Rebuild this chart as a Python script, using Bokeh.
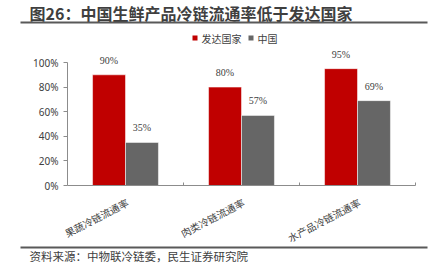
import math
from bokeh.plotting import figure
from bokeh.layouts import column
from bokeh.models import ColumnDataSource, LabelSet, FixedTicker, Range1d
from bokeh.core.properties import value
from bokeh.embed import file_html
from bokeh.resources import INLINE

# ---- data ----
categories = ["果蔬冷链流通率", "肉类冷链流通率", "水产品冷链流通率"]
developed = [90, 80, 95]
china = [35, 57, 69]
series_names = ["发达国家", "中国"]
y_ticks = [0, 20, 40, 60, 80, 100]
title_text = "图26：中国生鲜产品冷链流通率低于发达国家"
source_text = "资料来源：中物联冷链委，民生证券研究院"

# ---- styles ----
RED = "#C00000"
GRAY = "#666666"
TXT = "#404040"
AXIS = "#8C8C8C"
RULE = "#595959"
CJK = "Noto Sans CJK SC"
NUM = "Noto Sans"

W = 439
TOP_H = 44            # header strip (title, rule, legend)
FL, FR = 67, 415      # frame left/right
Y100, Y0 = 62, 185    # canvas px of 100% and 0%
FOOT_Y = Y0 + 1       # overlay strip (category labels, rule, source) starts here
BOT_H = 272 - FOOT_Y
AX_BORDER = 85        # reserved space below x axis (fixed)
CH_H = (Y0 - TOP_H) + AX_BORDER
bw = 0.284
LBL_ANGLE = math.radians(27.5)
LBL_FS = 10           # px


def strip(y0, h, **kw):
    f = figure(width=W, height=h, output_backend="svg", toolbar_location=None,
               x_range=Range1d(0, W), y_range=Range1d(y0 + h, y0),
               x_axis_type=None, y_axis_type=None, frame_align=False,
               min_border=0, min_border_left=0, min_border_right=0,
               min_border_top=0, min_border_bottom=0, **kw)
    f.outline_line_color = None
    f.grid.visible = False
    return f


# ---- header ----
top = strip(0, TOP_H)
top.background_fill_color = "white"
top.border_fill_color = "white"
top.text(x=[29], y=[12.5], text=[title_text], text_font=value(CJK),
         text_font_size="16px", text_font_style="bold", text_color="#3F3F3F",
         text_baseline="middle", text_align="left")
top.quad(left=[20], right=[427], top=[21], bottom=[23], fill_color=RULE, line_color=None)
# legend
leg_x = [192, 248]
leg_colors = [RED, GRAY]
top.quad(left=leg_x, right=[x + 5 for x in leg_x], top=[35, 35], bottom=[40, 40],
         fill_color=leg_colors, line_color=None)
top.text(x=[x + 9 for x in leg_x], y=[37.5, 37.5], text=series_names,
         text_font=value(CJK), text_font_size="10px", text_color=TXT,
         text_baseline="middle", text_align="left")

# ---- chart ----
px_per_unit = (Y0 - Y100) / 100.0
frame_top_val = 100 + (Y100 - TOP_H) / px_per_unit
p = figure(width=W, height=CH_H, output_backend="svg", toolbar_location=None,
           x_range=Range1d(0, len(categories)), y_range=Range1d(0, frame_top_val),
           frame_align=False,
           min_border_left=FL, min_border_right=W - FR, min_border_top=0,
           min_border_bottom=AX_BORDER)
p.outline_line_color = None
p.grid.grid_line_color = None
p.background_fill_color = "white"
p.border_fill_color = "white"

centers = [i + 0.5 for i in range(len(categories))]
src = ColumnDataSource(dict(
    xr=[c - bw / 2 for c in centers], xg=[c + bw / 2 for c in centers],
    dev=developed, cn=china,
    dev_lbl=[f"{v}%" for v in developed], cn_lbl=[f"{v}%" for v in china]))

p.vbar(x="xr", top="dev", width=bw, source=src, fill_color=RED,
       line_color="white", line_width=1, line_alpha=0.5)
p.vbar(x="xg", top="cn", width=bw, source=src, fill_color=GRAY,
       line_color="white", line_width=1, line_alpha=0.5)

for xcol, ycol, tcol in (("xr", "dev", "dev_lbl"), ("xg", "cn", "cn_lbl")):
    p.add_layout(LabelSet(x=xcol, y=ycol, text=tcol, source=src, y_offset=9,
                          text_align="center", text_baseline="bottom",
                          text_font=NUM, text_font_size="10px", text_color=TXT))

# y axis
ya = p.yaxis[0]
ya.ticker = FixedTicker(ticks=y_ticks)
ya.bounds = (0, 100)
ya.major_label_overrides = {t: f"{t}%" for t in y_ticks}
ya.axis_line_color = AXIS
ya.major_tick_line_color = AXIS
ya.major_tick_out = 4
ya.major_tick_in = 0
ya.minor_tick_line_color = None
ya.major_label_standoff = 5
ya.major_label_text_font = NUM
ya.major_label_text_font_size = "10px"
ya.major_label_text_color = TXT

# x axis: line + category boundary ticks (labels drawn in the overlay strip)
xa = p.xaxis[0]
xa.ticker = FixedTicker(ticks=[], minor_ticks=list(range(1, len(categories) + 1)))
xa.axis_line_color = AXIS
xa.major_tick_line_color = None
xa.minor_tick_line_color = AXIS
xa.minor_tick_in = 3
xa.minor_tick_out = 0
xa.major_label_text_font_size = "0px"

# ---- overlay strip below the axis (pulled up over the chart's empty border) ----
bot = strip(FOOT_Y, BOT_H, margin=(FOOT_Y - TOP_H - CH_H, 0, 0, 0))
bot.background_fill_alpha = 0
bot.border_fill_alpha = 0

# rotated category labels: end near the category centre, 16px below the axis
unit_px = (FR - FL) / len(categories)
end_x = [FL + c * unit_px + 2 for c in centers]
end_y = Y0 + 16
lens = [len(c) * LBL_FS for c in categories]
bot.text(x=[ex - L * math.cos(LBL_ANGLE) for ex, L in zip(end_x, lens)],
         y=[end_y + L * math.sin(LBL_ANGLE) for L in lens],
         text=categories, angle=LBL_ANGLE, text_font=value(CJK),
         text_font_size=f"{LBL_FS}px", text_color=TXT,
         text_baseline="middle", text_align="left")

bot.quad(left=[20], right=[427], top=[246], bottom=[248], fill_color=RULE, line_color=None)
bot.text(x=[29], y=[255], text=[source_text], text_font=value(CJK),
         text_font_size="11.5px", text_color=TXT, text_baseline="middle",
         text_align="left")

layout = column(top, p, bot, spacing=0)
open("out.html", "w").write(file_html(layout, INLINE))
